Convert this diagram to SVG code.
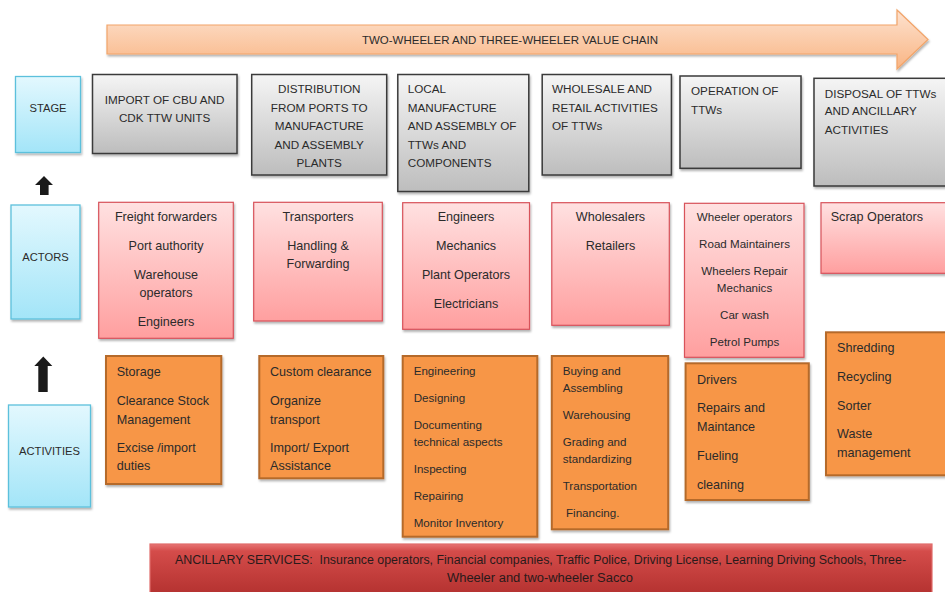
<svg xmlns="http://www.w3.org/2000/svg" width="945" height="592" viewBox="0 0 945 592">
<defs>
<linearGradient id="gGray" x1="0" y1="0" x2="0" y2="1"><stop offset="0" stop-color="#f5f5f5"/><stop offset="1" stop-color="#bdbdbd"/></linearGradient>
<linearGradient id="gBlue" x1="0" y1="0" x2="0" y2="1"><stop offset="0" stop-color="#e3f8fe"/><stop offset="1" stop-color="#a3e5f8"/></linearGradient>
<linearGradient id="gPink" x1="0" y1="0" x2="0" y2="1"><stop offset="0" stop-color="#ffe1e1"/><stop offset="1" stop-color="#ff9f9f"/></linearGradient>
<linearGradient id="gPeach" x1="0" y1="0" x2="0" y2="1"><stop offset="0" stop-color="#fde2cf"/><stop offset="1" stop-color="#f9b584"/></linearGradient>
<linearGradient id="gRed" x1="0" y1="0" x2="0" y2="1"><stop offset="0" stop-color="#e77474"/><stop offset="0.12" stop-color="#d44c4a"/><stop offset="1" stop-color="#ad2c2a"/></linearGradient>
<filter id="sh" x="-10%" y="-10%" width="130%" height="130%"><feDropShadow dx="1" dy="2" stdDeviation="1.3" flood-color="#000" flood-opacity="0.3"/></filter>
<style>
text{font-family:"Liberation Sans",Arial,sans-serif;fill:#2b2b2b;}
.gray{fill:url(#gGray);stroke:#3a3a3a;stroke-width:1.5;filter:url(#sh);}
.blue{fill:url(#gBlue);stroke:#5cc0dc;stroke-width:1.3;filter:url(#sh);}
.pink{fill:url(#gPink);stroke:#d8525a;stroke-width:1.2;filter:url(#sh);}
.orng{fill:#f79646;stroke:#b56a2c;stroke-width:2;filter:url(#sh);}
.up{font-size:11.7px;}
.lbl{font-size:11.2px;text-anchor:middle;}
.t{font-size:12.6px;}
.s{font-size:11.6px;}
.c{text-anchor:middle;}
.arr{fill:#1a1a1a;}
</style>
</defs>
<rect width="945" height="592" fill="#fff"/>

<g id="value-chain">
<path d="M107,25 H897 V10 L928,39.5 L897,69 V54 H107 Z" fill="url(#gPeach)" stroke="#f2a469" stroke-width="1.2" filter="url(#sh)"/>
<text x="510" y="43.8" class="c" style="font-size:11.5px">TWO-WHEELER AND THREE-WHEELER VALUE CHAIN</text>
</g>

<g id="stage-label">
<rect class="blue" x="15.5" y="76.5" width="65" height="76"/>
<text class="lbl" x="48" y="112">STAGE</text>
</g>
<g id="actors-label">
<rect class="blue" x="11" y="205" width="69" height="114"/>
<text class="lbl" x="45.5" y="260.8">ACTORS</text>
</g>
<g id="activities-label">
<rect class="blue" x="8.5" y="405" width="82" height="102"/>
<text class="lbl" x="49.5" y="454.8">ACTIVITIES</text>
</g>

<g id="connectors">
<path class="arr" d="M44,176 L53,185 H48.6 V195 H40 V185 H35 Z"/>
<path class="arr" d="M43.3,356.5 L52.3,366 H47.7 V392 H38.3 V366 H34.3 Z"/>
</g>

<g id="stage-import">
<rect class="gray" x="92.5" y="74.5" width="144.5" height="79"/>
<text class="up c" x="164.6" y="103.5">IMPORT OF CBU AND</text>
<text class="up c" x="164.6" y="121.5">CDK TTW UNITS</text>
</g>
<g id="stage-distribution">
<rect class="gray" x="251.7" y="74.5" width="135" height="100.5"/>
<text class="up c" x="319.2" y="92.5">DISTRIBUTION</text>
<text class="up c" x="319.2" y="111.5">FROM PORTS TO</text>
<text class="up c" x="319.2" y="129.9">MANUFACTURE</text>
<text class="up c" x="319.2" y="148.5">AND ASSEMBLY</text>
<text class="up c" x="319.2" y="166.9">PLANTS</text>
</g>
<g id="stage-local">
<rect class="gray" x="397.8" y="74.5" width="131" height="117"/>
<text class="up" x="407.7" y="92.5">LOCAL</text>
<text class="up" x="407.7" y="111.5">MANUFACTURE</text>
<text class="up" x="407.7" y="129.9">AND ASSEMBLY OF</text>
<text class="up" x="407.7" y="148.5">TTWs AND</text>
<text class="up" x="407.7" y="166.9">COMPONENTS</text>
</g>
<g id="stage-wholesale">
<rect class="gray" x="542.2" y="74.5" width="129.2" height="100.5"/>
<text class="up" x="552" y="92.5">WHOLESALE AND</text>
<text class="up" x="552" y="111.5">RETAIL ACTIVITIES</text>
<text class="up" x="552" y="129.9">OF TTWs</text>
</g>
<g id="stage-operation">
<rect class="gray" x="680" y="76" width="121" height="92.3"/>
<text class="up" x="691" y="94.9">OPERATION OF</text>
<text class="up" x="691" y="113.5">TTWs</text>
</g>
<g id="stage-disposal">
<rect class="gray" x="814" y="78.3" width="140" height="107.7"/>
<text class="up" x="824.7" y="97.5">DISPOSAL OF TTWs</text>
<text class="up" x="824.7" y="115.2">AND ANCILLARY</text>
<text class="up" x="824.7" y="133.5">ACTIVITIES</text>
</g>

<g id="actors-import">
<rect class="pink" x="98.7" y="202.3" width="134.6" height="136"/>
<text class="t c" x="166" y="221.1">Freight forwarders</text>
<text class="t c" x="166" y="250.1">Port authority</text>
<text class="t c" x="166" y="278.7">Warehouse</text>
<text class="t c" x="166" y="297.1">operators</text>
<text class="t c" x="166" y="326.1">Engineers</text>
</g>
<g id="actors-distribution">
<rect class="pink" x="253.7" y="202.3" width="128.6" height="118.7"/>
<text class="t c" x="318" y="221.1">Transporters</text>
<text class="t c" x="318" y="250.1">Handling &amp;</text>
<text class="t c" x="318" y="268.4">Forwarding</text>
</g>
<g id="actors-local">
<rect class="pink" x="402.7" y="202.7" width="126.8" height="126.6"/>
<text class="t c" x="466" y="221.1">Engineers</text>
<text class="t c" x="466" y="250.1">Mechanics</text>
<text class="t c" x="466" y="279.1">Plant Operators</text>
<text class="t c" x="466" y="308.1">Electricians</text>
</g>
<g id="actors-wholesale">
<rect class="pink" x="551.8" y="202.7" width="117.5" height="122.6"/>
<text class="t c" x="610.5" y="221.1">Wholesalers</text>
<text class="t c" x="610.5" y="250.1">Retailers</text>
</g>
<g id="actors-operation">
<rect class="pink" x="684.5" y="203.3" width="119.5" height="154"/>
<text class="s c" x="744.5" y="220.8">Wheeler operators</text>
<text class="s c" x="744.5" y="248.1">Road Maintainers</text>
<text class="s c" x="744.5" y="275.1">Wheelers Repair</text>
<text class="s c" x="744.5" y="292.1">Mechanics</text>
<text class="s c" x="744.5" y="319.1">Car wash</text>
<text class="s c" x="744.5" y="346.4">Petrol Pumps</text>
</g>
<g id="actors-disposal">
<rect class="pink" x="821" y="202.7" width="134" height="70.6"/>
<text class="t" x="830.7" y="221.1">Scrap Operators</text>
</g>

<g id="activities-import">
<rect class="orng" x="106" y="356" width="115.3" height="128"/>
<text class="t" x="116.7" y="376.1">Storage</text>
<text class="t" x="116.7" y="405.1">Clearance Stock</text>
<text class="t" x="116.7" y="423.7">Management</text>
<text class="t" x="116.7" y="451.7">Excise /import</text>
<text class="t" x="116.7" y="470.4">duties</text>
</g>
<g id="activities-distribution">
<rect class="orng" x="259.3" y="356" width="124" height="122.3"/>
<text class="t" x="270" y="376.1">Custom clearance</text>
<text class="t" x="270" y="405.1">Organize</text>
<text class="t" x="270" y="423.7">transport</text>
<text class="t" x="270" y="451.7">Import/ Export</text>
<text class="t" x="270" y="470.4">Assistance</text>
</g>
<g id="activities-local">
<rect class="orng" x="402.7" y="356" width="134.6" height="180.7"/>
<text class="s" x="413.7" y="375">Engineering</text>
<text class="s" x="413.7" y="402.3">Designing</text>
<text class="s" x="413.7" y="429">Documenting</text>
<text class="s" x="413.7" y="446.3">technical aspects</text>
<text class="s" x="413.7" y="473">Inspecting</text>
<text class="s" x="413.7" y="500">Repairing</text>
<text class="s" x="413.7" y="527">Monitor Inventory</text>
</g>
<g id="activities-wholesale">
<rect class="orng" x="551.8" y="356" width="116.4" height="173.3"/>
<text class="s" x="562.7" y="375">Buying and</text>
<text class="s" x="562.7" y="392">Assembling</text>
<text class="s" x="562.7" y="419">Warehousing</text>
<text class="s" x="562.7" y="446">Grading and</text>
<text class="s" x="562.7" y="463">standardizing</text>
<text class="s" x="562.7" y="490">Transportation</text>
<text class="s" x="566" y="517">Financing.</text>
</g>
<g id="activities-operation">
<rect class="orng" x="685.6" y="363.3" width="123.2" height="136.7"/>
<text class="t" x="697" y="384.4">Drivers</text>
<text class="t" x="697" y="412.1">Repairs and</text>
<text class="t" x="697" y="431.1">Maintance</text>
<text class="t" x="697" y="460.1">Fueling</text>
<text class="t" x="697" y="489.1">cleaning</text>
</g>
<g id="activities-disposal">
<rect class="orng" x="826" y="332.3" width="130" height="143"/>
<text class="t" x="837" y="352.1">Shredding</text>
<text class="t" x="837" y="381.1">Recycling</text>
<text class="t" x="837" y="410.1">Sorter</text>
<text class="t" x="837" y="438.1">Waste</text>
<text class="t" x="837" y="457.1">management</text>
</g>

<g id="ancillary-services">
<rect x="150" y="544" width="782" height="60" fill="url(#gRed)" stroke="#e06c6a" stroke-width="1.2"/>
<text x="540.5" y="563.5" class="c" style="font-size:12.3px;fill:#2a1a1a;white-space:pre" xml:space="preserve" textLength="731" lengthAdjust="spacingAndGlyphs">ANCILLARY SERVICES:  Insurance operators, Financial companies, Traffic Police, Driving License, Learning Driving Schools, Three-</text>
<text x="540" y="582" class="c" style="font-size:12.3px;fill:#2a1a1a" textLength="186" lengthAdjust="spacingAndGlyphs">Wheeler and two-wheeler Sacco</text>
</g>
</svg>
